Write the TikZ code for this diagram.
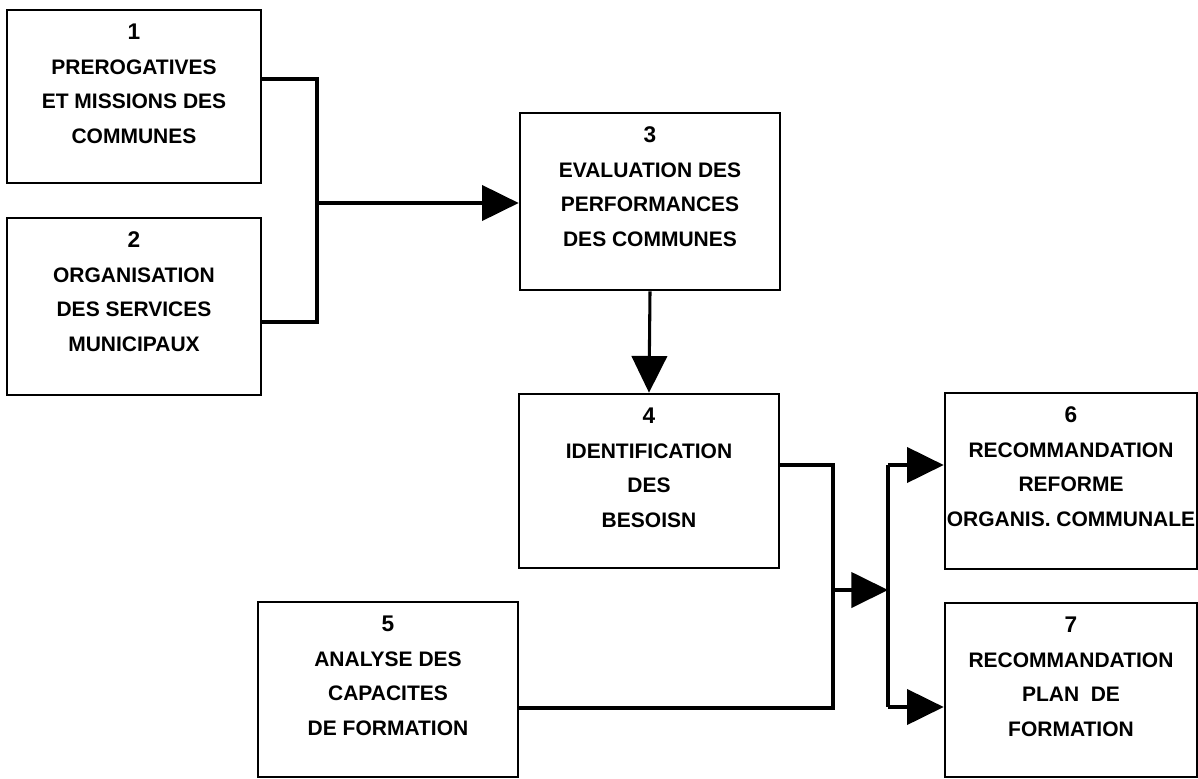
\documentclass[tikz,border=0pt]{standalone}
\usepackage{fontspec}
\setmainfont{Liberation Sans}
\usetikzlibrary{arrows.meta,calc}

\newcommand{\stagenum}[1]{{\fontsize{17pt}{25.9pt}\selectfont #1}}

\tikzset{
  stage/.style n args={2}{draw=black, line width=2pt, fill=white,
    minimum width=#1*0.75pt, minimum height=#2*0.75pt, inner sep=0pt},
  lbl/.style={anchor=north, inner sep=0pt, align=center,
    font=\fontsize{15.75pt}{25.9pt}\selectfont\bfseries},
  conn/.style={draw=black, line width=2.3pt, line join=miter},
  arr/.style={conn, -{Triangle[length=27.5pt, width=26.5pt]}}
}

\begin{document}
\begin{tikzpicture}[x=0.75pt, y=-0.75pt]
\useasboundingbox (0,0) rectangle (1198,778);

% stage boxes
\node[stage={254}{173}] (b1) at (134,96.5) {};
\node[stage={254}{177}] (b2) at (134,306.5) {};
\node[stage={260}{177}] (b3) at (650,201.5) {};
\node[stage={260}{174}] (b4) at (649,481) {};
\node[stage={260}{175}] (b5) at (388,689.5) {};
\node[stage={252}{176}] (b6) at (1071,481) {};
\node[stage={252}{174}] (b7) at (1071,690) {};

% box captions
\node[lbl] (t1) at ($(b1.north)+(0,15)$) {\stagenum{1}\\PREROGATIVES\\ET MISSIONS DES\\COMMUNES};
\node[lbl] (t2) at ($(b2.north)+(0,15)$) {\stagenum{2}\\ORGANISATION\\DES SERVICES\\MUNICIPAUX};
\node[lbl] (t3) at ($(b3.north)+(0,15)$) {\stagenum{3}\\EVALUATION DES\\PERFORMANCES\\DES COMMUNES};
\node[lbl] (t4) at ($(b4.north)+(0,15)$) {\stagenum{4}\\IDENTIFICATION\\DES\\BESOISN};
\node[lbl] (t5) at ($(b5.north)+(0,15)$) {\stagenum{5}\\ANALYSE DES\\CAPACITES\\DE FORMATION};
\node[lbl] (t6) at ($(b6.north)+(0,15)$) {\stagenum{6}\\RECOMMANDATION\\REFORME\\ORGANIS. COMMUNALE};
\node[lbl] (t7) at ($(b7.north)+(0,15)$) {\stagenum{7}\\RECOMMANDATION\\PLAN\ \ DE\\FORMATION};

% merge of 1 and 2 into 3
\coordinate (k1) at (317,79);
\coordinate (k2) at (317,322);
\coordinate (j1) at (317,203);
\draw[conn] (b1.east |- k1) -- (k1) -- (k2) -- (b2.east |- k2);
\draw[arr] (j1) -- (b3.west |- j1);

% 3 to 4
\draw[arr] (b3.south) -- (b4.north);

% merge of 4 and 5
\coordinate (k3) at (833,465);
\coordinate (k4) at (833,708);
\coordinate (j2) at (833,590);
\draw[conn] (b4.east |- k3) -- (k3) -- (k4) -- (b5.east |- k4);

% split towards 6 and 7
\coordinate (s) at (888,590);
\coordinate (s6) at (888,465);
\coordinate (s7) at (888,707);
\draw[arr] (j2) -- (s);
\draw[conn] (s6) -- (s7);
\draw[arr] (s6) -- (b6.west |- s6);
\draw[arr] (s7) -- (b7.west |- s7);
\end{tikzpicture}
\end{document}
